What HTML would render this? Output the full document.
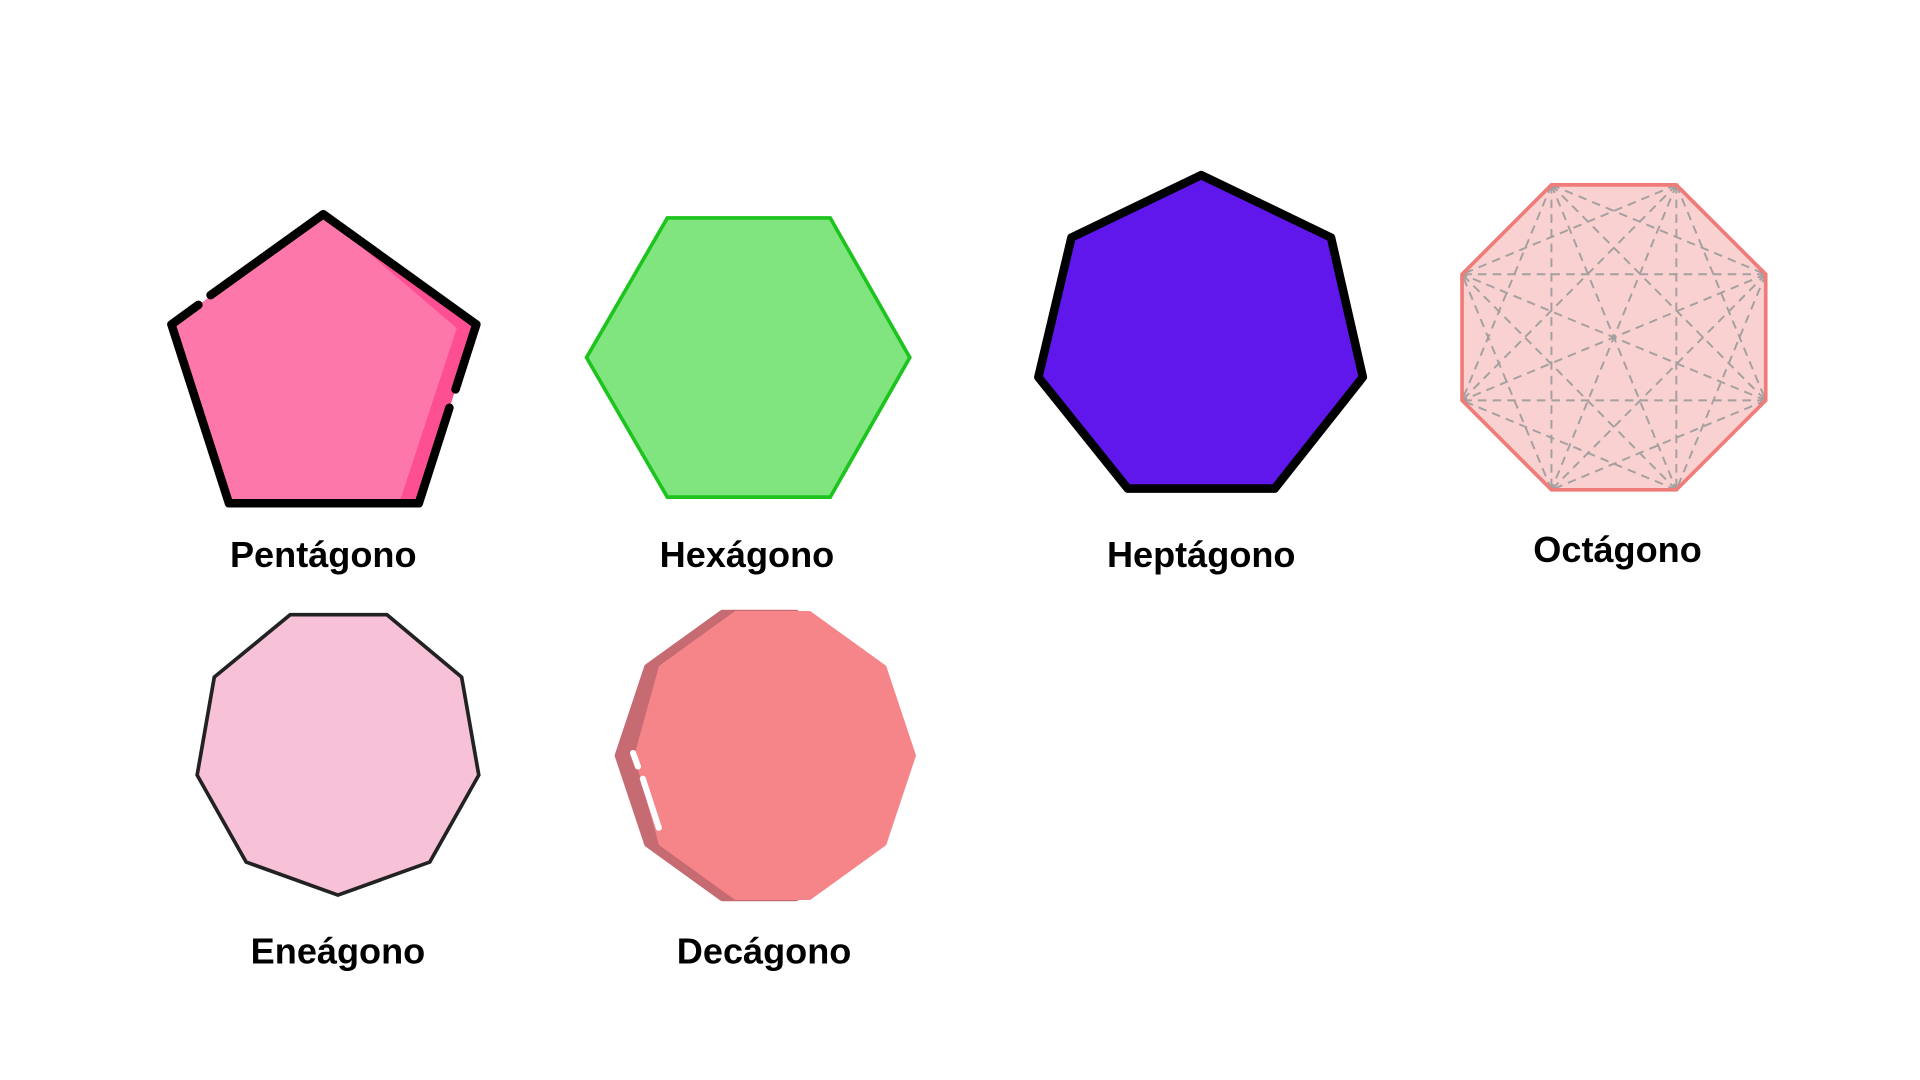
<!DOCTYPE html>
<html><head><meta charset="utf-8"><style>html,body{margin:0;padding:0;background:#fff;width:1920px;height:1080px;overflow:hidden}svg{display:block}</style></head>
<body>
<svg id="chart" width="1920" height="1080" viewBox="0 0 1568 882" xmlns="http://www.w3.org/2000/svg">
<rect width="1568" height="882" fill="#fff"/>
<g>
<polygon points="264,175 389,265 342,411 187,411 140,265" fill="#fe77ab"/>
<polygon points="264,175 389,265 342,411 326,411 373,268" fill="#ff4f93"/>
<path d="M172,241 L264,175 L389,265 L372,318 M367,333 L342,411 L187,411 L140,265 L162,249" fill="none" stroke="#000" stroke-width="7" stroke-linejoin="round" stroke-linecap="round"/>
</g>
<polygon points="545,178 678,178 743,292 678,406 545,406 479,292" fill="#80e57f" stroke="#1ec41e" stroke-width="3"/>
<polygon points="981,143 1087,194 1113,308 1041,399 921,399 848,308 875,194" fill="#5f17ec" stroke="#000" stroke-width="7" stroke-linejoin="round"/>
<g>
<polygon points="1267,151 1369,151 1442,224 1442,327 1369,400 1267,400 1194,327 1194,224" fill="#f8d1d0"/>
<g id="diag" stroke="#a5a0a0" stroke-width="1.6" stroke-dasharray="7,5" fill="none"></g>
<polygon points="1267,151 1369,151 1442,224 1442,327 1369,400 1267,400 1194,327 1194,224" fill="none" stroke="#ef7c78" stroke-width="3"/>
</g>
<polygon points="237,502 316,502 377,553 391,633 351,704 276,731 201,704 161,633 175,553" fill="#f7c1d8" stroke="#222" stroke-width="3"/>
<g>
<polygon points="590,501 650,501 711,545 735,617 711,689 650,733 590,733 529,689 505,617 529,545" fill="#c56b71" stroke="#c56b71" stroke-width="6" stroke-linejoin="round"/>
<polygon points="601,501 661,501 722,545 746,617 722,689 661,733 601,733 540,689 520,617 540,545" fill="#f58588" stroke="#f58588" stroke-width="4" stroke-linejoin="round"/>
<path d="M517,615 L521,626 M525,636 L538,676" stroke="#fff" stroke-width="5" stroke-linecap="round"/>
</g>
<g font-family="'Liberation Sans', sans-serif" font-weight="bold" font-size="29.5" text-anchor="middle" fill="#000">
<text x="264" y="463">Pentágono</text>
<text x="610" y="463">Hexágono</text>
<text x="981" y="463">Heptágono</text>
<text x="1321" y="459">Octágono</text>
<text x="276" y="787">Eneágono</text>
<text x="624" y="787">Decágono</text>
</g>
</svg>
<script>
const octX=[1267,1369,1442,1442,1369,1267,1194,1194];
const octY=[151,151,224,327,400,400,327,224];
const g=document.getElementById('diag');
for(let i=0;i<8;i++)for(let j=i+2;j<8;j++){
 if(i===0&&j===7)continue;
 const l=document.createElementNS('http://www.w3.org/2000/svg','line');
 
 
 l.setAttribute('x1',octX[i]);l.setAttribute('y1',octY[i]);
 l.setAttribute('x2',octX[j]);l.setAttribute('y2',octY[j]);
 g.appendChild(l);
}
</script>
</body></html>
